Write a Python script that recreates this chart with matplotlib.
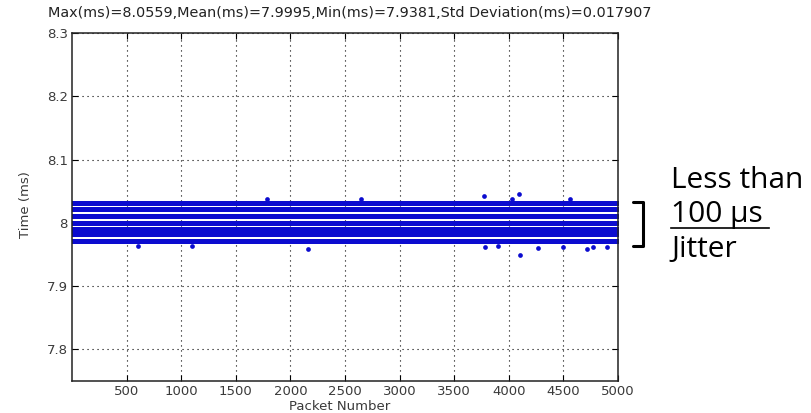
import matplotlib
matplotlib.use('Agg')
import matplotlib.pyplot as plt
import numpy as np
from matplotlib.lines import Line2D

# ---- data ----
packets = np.arange(1, 5001)
# quantised delay levels (ms) that appear as dense horizontal bands
band_levels = [8.032, 8.022, 8.011, 8.000, 7.991, 7.982, 7.972]
# isolated points outside the dense bands
outlier_x = [1785, 2650, 3775, 4030, 4095, 4560,
             600, 1100, 2160, 3780, 3900, 4100, 4270, 4500, 4715, 4770, 4900]
outlier_y = [8.038, 8.037, 8.043, 8.037, 8.046, 8.038,
             7.964, 7.963, 7.958, 7.961, 7.963, 7.949, 7.960, 7.962, 7.959, 7.961, 7.961]
x_ticks = [500, 1000, 1500, 2000, 2500, 3000, 3500, 4000, 4500, 5000]
y_ticks = [7.8, 7.9, 8.0, 8.1, 8.2, 8.3]
y_tick_labels = ['7.8', '7.9', '8', '8.1', '8.2', '8.3']
title = "Max(ms)=8.0559,Mean(ms)=7.9995,Min(ms)=7.9381,Std Deviation(ms)=0.017907"
note_lines = ["Less than", "100 \u00b5s", "Jitter"]

W, H = 811, 413
fig = plt.figure(figsize=(W / 100, H / 100), dpi=100)
fig.patch.set_facecolor('white')
ax = fig.add_axes([72 / W, 1 - 381 / H, 546 / W, 348 / H])

dot_color = '#0b0bcf'
for lv in band_levels:
    ax.plot(packets, np.full(packets.shape, lv), linestyle='none', marker='o',
            ms=3.6, mfc=dot_color, mec='none')
ax.plot(outlier_x, outlier_y, linestyle='none', marker='o', ms=3.4,
        mfc=dot_color, mec='none')

ax.set_xlim(0, 5000)
ax.set_ylim(7.75, 8.3)
ax.set_xticks(x_ticks)
ax.set_yticks(y_ticks)
ax.set_yticklabels(y_tick_labels)
ax.grid(True, color='black', linestyle=(0, (1, 3.5)), linewidth=0.8)
ax.tick_params(direction='in', length=4, width=0.8, top=True, right=True,
               labelsize=9.5, labelcolor='#3a3a3a', pad=3)
for sp in ax.spines.values():
    sp.set_linewidth(1.1)
    sp.set_color('#222222')

fig.text(350 / W, 1 - 13 / H, title, ha='center', va='center', fontsize=10.4,
         color='#222222')
fig.text(340 / W, 1 - 406 / H, "Packet Number", ha='center', va='center',
         fontsize=9.5, color='#3a3a3a')
fig.text(25 / W, 1 - 205 / H, "Time (ms)", ha='center', va='center',
         rotation=90, fontsize=9.5, color='#3a3a3a')

# annotation on the right
baselines = [188, 222, 257]
for txt, b in zip(note_lines, baselines):
    fig.text(671 / W, 1 - b / H, txt, ha='left', va='baseline',
             fontsize=21.5, family='Open Sans', color='black')
fig.add_artist(Line2D([671 / W, 769 / W], [1 - 228 / H, 1 - 228 / H],
                      color='black', lw=1.2))
fig.add_artist(Line2D([633 / W, 643 / W, 643 / W, 633 / W],
                      [1 - 202 / H, 1 - 202 / H, 1 - 246 / H, 1 - 246 / H],
                      color='black', lw=2.2, solid_joinstyle='round',
                      solid_capstyle='round'))

fig.savefig('out.png', dpi=100, facecolor='white')
